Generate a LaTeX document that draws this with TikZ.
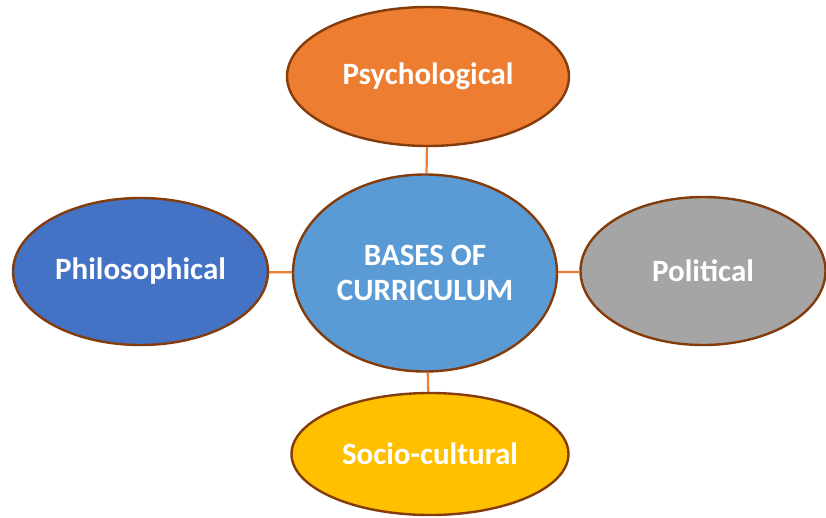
\documentclass[tikz,border=0pt]{standalone}
\usepackage{fontspec}
\setmainfont{Carlito}
\usepackage[svgnames]{xcolor}
\usetikzlibrary{shapes.geometric}
\definecolor{psyorange}{HTML}{ED7D31}
\definecolor{midblue}{HTML}{5B9BD5}
\definecolor{philblue}{HTML}{4472C4}
\definecolor{polgray}{HTML}{A5A5A5}
\definecolor{socyellow}{HTML}{FFC000}
\definecolor{rim}{HTML}{843C0C}
\tikzset{base/.style = {ellipse, draw=rim, line width=2.4pt, inner sep=0,
                        text=white, font=\fontsize{31}{35}\selectfont\bfseries,
                        align=center}}
\tikzset{link/.style = {psyorange, line width=2.2pt}}

\begin{document}
\begin{tikzpicture}[x=1pt, y=-1pt]
      \useasboundingbox (0,0) rectangle (826,517);
      % Draw the centre and the four bases
      \node[base, fill=midblue, minimum width=264pt, minimum height=197pt] (centre) at (425,273) {BASES OF\\CURRICULUM};
      \node[base, fill=psyorange, minimum width=282pt, minimum height=139pt] (psy) at (428,76.5) {Psychological};
      \node[base, fill=philblue, minimum width=255pt, minimum height=147pt] (phil) at (140.5,271.5) {Philosophical};
      \node[base, fill=polgray, minimum width=245pt, minimum height=148pt] (pol) at (703,271) {Political};
      \node[base, fill=socyellow, minimum width=277pt, minimum height=122pt] (soc) at (430,454) {Socio-cultural};

      \draw[link] (psy) -- (centre);
      \draw[link] (phil) -- (centre);
      \draw[link] (centre) -- (pol);
      \draw[link] (centre) -- (soc);
    \end{tikzpicture}
\end{document}
